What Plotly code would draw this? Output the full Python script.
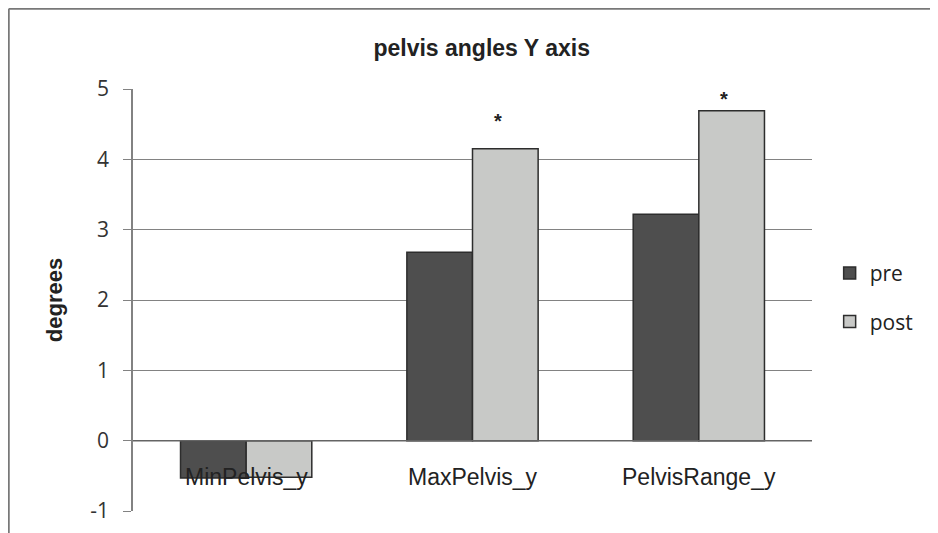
import plotly.graph_objects as go

categories = ["MinPelvis_y", "MaxPelvis_y", "PelvisRange_y"]
pre = [-0.53, 2.68, 3.22]
post = [-0.52, 4.15, 4.69]
sig_cats = ["MaxPelvis_y", "PelvisRange_y"]
sig_y = [4.55, 4.86]
y_ticks = [-1, 0, 1, 2, 3, 4, 5]
y_tick_text = ["-1", "0", "1", "2", "3", "4", "5"]

fig = go.Figure()
fig.add_trace(go.Bar(x=categories, y=pre, name="pre", legendgroup="pre",
                     marker=dict(color="rgb(78, 78, 78)", line=dict(color="rgb(45, 45, 45)", width=1.5))))
fig.add_trace(go.Bar(x=categories, y=post, name="post", legendgroup="post",
                     marker=dict(color="rgb(200, 201, 199)", line=dict(color="rgb(45, 45, 45)", width=1.5))))

# significance stars
for c, yv in zip(sig_cats, sig_y):
    fig.add_annotation(x=c, y=yv, xref="x", yref="y", text="<b>*</b>", showarrow=False,
                       xshift=25, font=dict(family="Arial", size=20, color="#222"))

# category labels sit just under the zero line, excel style
for c in categories:
    fig.add_annotation(x=c, y=0, xref="x", yref="y", text=c, showarrow=False,
                       yanchor="middle", yshift=-36,
                       font=dict(family="Arial", size=23, color="#222"))

# y axis title as annotation so it can sit closer to the ticks
fig.add_annotation(x=-0.116, y=0.5, xref="paper", yref="paper", text="<b>degrees</b>", showarrow=False,
                   textangle=-90, xanchor="center", yanchor="middle",
                   font=dict(family="Arial", size=22, color="#222"))

# zero line and chart frame
fig.add_shape(type="line", xref="paper", yref="y", x0=0, x1=1, y0=0, y1=0,
              line=dict(color="rgb(100, 100, 100)", width=1.5))
fig.add_shape(type="line", xref="paper", yref="paper", x0=-0.183, x1=1.2, y0=1.19, y1=1.19,
              line=dict(color="rgb(120, 120, 120)", width=2))
fig.add_shape(type="line", xref="paper", yref="paper", x0=-0.183, x1=-0.183, y0=1.19, y1=-0.1,
              line=dict(color="rgb(120, 120, 120)", width=2))

fig.update_xaxes(showticklabels=False, showgrid=False, showline=False, zeroline=False, automargin=False)
fig.update_yaxes(range=[-1, 5], tickvals=y_ticks, ticktext=y_tick_text,
                 showgrid=True, gridcolor="rgb(130, 130, 130)", gridwidth=1,
                 zeroline=False, showline=True, linecolor="rgb(130, 130, 130)", linewidth=1.5,
                 ticks="outside", ticklen=8, tickcolor="rgb(130, 130, 130)", ticklabelstandoff=10,
                 tickfont=dict(family="Open Sans", size=21, color="#333"), automargin=False)

fig.update_layout(
    width=938, height=533,
    title=dict(text="<b>pelvis angles Y axis</b>", x=0.505, xanchor="center", y=0.925, yanchor="middle",
               font=dict(family="Arial", size=23, color="#222")),
    barmode="group", bargap=0.42, bargroupgap=0,
    legend=dict(x=1.026, y=0.506, xanchor="left", yanchor="middle", tracegroupgap=18,
                font=dict(family="Open Sans", size=21, color="#222"), itemwidth=30),
    margin=dict(l=125, r=134, t=81, b=30, autoexpand=False),
    paper_bgcolor="white", plot_bgcolor="white",
    showlegend=True,
)

fig.write_html("out.html")
